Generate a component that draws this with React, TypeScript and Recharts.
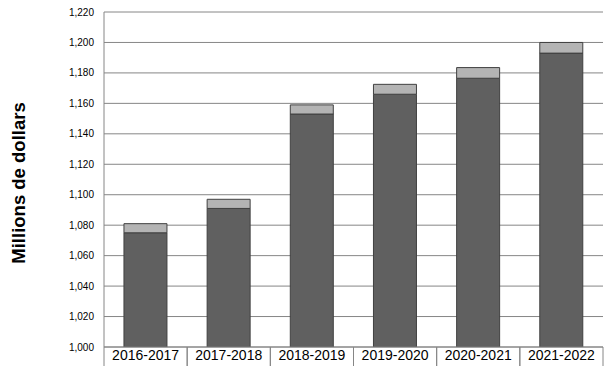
import { BarChart, Bar, XAxis, YAxis, CartesianGrid, Label } from 'recharts'

const years = ['2016-2017', '2017-2018', '2018-2019', '2019-2020', '2020-2021', '2021-2022']
const baseValues = [1075, 1091, 1153, 1166, 1176.5, 1193]
const topValues = [6, 6, 6, 6.5, 7, 7]
const yTicks = [1000, 1020, 1040, 1060, 1080, 1100, 1120, 1140, 1160, 1180, 1200, 1220]

const data = years.map((year, i) => ({ year, base: baseValues[i], top: topValues[i] }))

const GRID = '#868686'

function YearTick(props: any) {
  const { x, y, payload } = props
  const half = payload.offset ?? 0
  return (
    <g>
      <line x1={x - half} y1={y} x2={x - half} y2={y + 19} stroke={GRID} />
      <line x1={x + half} y1={y} x2={x + half} y2={y + 19} stroke={GRID} />
      <text x={x} y={y + 13} textAnchor="middle" fontSize={14} fill="#000" fontFamily="Liberation Sans, Arial, sans-serif">
        {payload.value}
      </text>
    </g>
  )
}

const fmt = (v: number) => v.toLocaleString('en-US')

export default function App() {
  return (
    <div style={{ position: 'absolute', left: 0, top: 0, background: '#fff' }}>
      <BarChart
        width={614}
        height={366}
        data={data}
        margin={{ top: 12, right: 11, bottom: 0, left: 0 }}
        barCategoryGap="24%"
      >
        <CartesianGrid vertical={false} stroke={GRID} strokeDasharray="" />
        <XAxis
          dataKey="year"
          height={19}
          tickSize={0}
          tickMargin={0}
          tickLine={false}
          axisLine={{ stroke: GRID }}
          tick={<YearTick />}
          interval={0}
        />
        <YAxis
          width={104}
          domain={[1000, 1220]}
          ticks={yTicks}
          allowDataOverflow
          tickFormatter={fmt}
          tickLine={false}
          tickSize={0}
          tickMargin={10}
          axisLine={{ stroke: GRID }}
          tick={{ fontSize: 10, fill: '#000', fontFamily: 'Liberation Sans, Arial, sans-serif' }}
        >
          <Label
            content={() => (
              <text
                x={18}
                y={183}
                transform="rotate(-90 18 183)"
                textAnchor="middle"
                dominantBaseline="central"
                fontSize={18.5}
                fontWeight="bold"
                fill="#000"
                fontFamily="Liberation Sans, Arial, sans-serif"
              >
                Millions de dollars
              </text>
            )}
          />
        </YAxis>
        <Bar dataKey="base" stackId="a" fill="#606060" stroke="#404040" strokeWidth={1} isAnimationActive={false} />
        <Bar dataKey="top" stackId="a" fill="#b4b4b4" stroke="#404040" strokeWidth={1} isAnimationActive={false} />
      </BarChart>
    </div>
  )
}
